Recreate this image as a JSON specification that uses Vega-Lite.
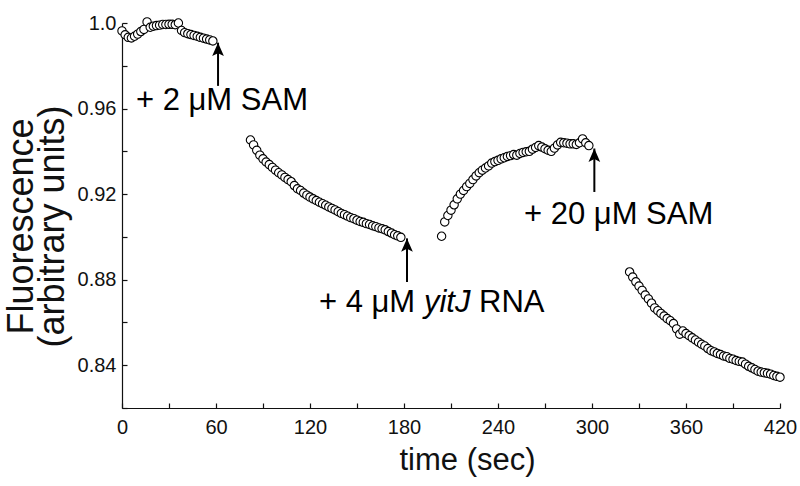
{
  "$schema": "https://vega.github.io/schema/vega-lite/v6.json",
  "width": 658,
  "height": 385,
  "autosize": {"type": "none"},
  "padding": {"left": 122, "top": 23, "right": 20, "bottom": 78},
  "background": "white",
  "config": {
    "view": {"stroke": null},
    "font": "Liberation Sans",
    "axis": {
      "grid": false,
      "domainColor": "#111",
      "domainWidth": 1.2,
      "tickColor": "#111",
      "tickWidth": 1.2,
      "tickSize": -5,
      "labelColor": "#111",
      "titleColor": "#111",
      "titleFontWeight": "normal",
      "labelFlush": false,
      "labelOverlap": false,
      "labelFontSize": 20
    }
  },
  "datasets": {
    "fluor": [
      {"t": 0, "v": 0.9963}, {"t": 2, "v": 0.9945}, {"t": 4, "v": 0.9933}, {"t": 6, "v": 0.9930}, {"t": 8, "v": 0.9938},
      {"t": 10, "v": 0.9948}, {"t": 12, "v": 0.9960}, {"t": 14, "v": 0.9970}, {"t": 16, "v": 1.0005}, {"t": 18, "v": 0.9980},
      {"t": 20, "v": 0.9985}, {"t": 22, "v": 0.9988}, {"t": 24, "v": 0.9990}, {"t": 26, "v": 0.9993}, {"t": 28, "v": 0.9993},
      {"t": 30, "v": 0.9994}, {"t": 32, "v": 0.9994}, {"t": 34, "v": 0.9992}, {"t": 36, "v": 1.0000}, {"t": 38, "v": 0.9965},
      {"t": 40, "v": 0.9955}, {"t": 42, "v": 0.9950}, {"t": 44, "v": 0.9946}, {"t": 46, "v": 0.9942}, {"t": 48, "v": 0.9938},
      {"t": 50, "v": 0.9933}, {"t": 52, "v": 0.9929}, {"t": 54, "v": 0.9925}, {"t": 56, "v": 0.9921}, {"t": 58, "v": 0.9916},
      {"t": 82, "v": 0.9453}, {"t": 84, "v": 0.9430}, {"t": 86, "v": 0.9405}, {"t": 88, "v": 0.9382}, {"t": 90, "v": 0.9365},
      {"t": 92, "v": 0.9350}, {"t": 94, "v": 0.9338}, {"t": 96, "v": 0.9325}, {"t": 98, "v": 0.9312}, {"t": 100, "v": 0.9300},
      {"t": 102, "v": 0.9290}, {"t": 104, "v": 0.9278}, {"t": 106, "v": 0.9268}, {"t": 108, "v": 0.9258}, {"t": 110, "v": 0.9240},
      {"t": 112, "v": 0.9225}, {"t": 114, "v": 0.9217}, {"t": 116, "v": 0.9205}, {"t": 118, "v": 0.9195}, {"t": 120, "v": 0.9186},
      {"t": 122, "v": 0.9178}, {"t": 124, "v": 0.9170}, {"t": 126, "v": 0.9162}, {"t": 128, "v": 0.9155}, {"t": 130, "v": 0.9148},
      {"t": 132, "v": 0.9140}, {"t": 134, "v": 0.9133}, {"t": 136, "v": 0.9126}, {"t": 138, "v": 0.9118}, {"t": 140, "v": 0.9110},
      {"t": 142, "v": 0.9104}, {"t": 144, "v": 0.9097}, {"t": 146, "v": 0.9090}, {"t": 148, "v": 0.9085}, {"t": 150, "v": 0.9078},
      {"t": 152, "v": 0.9072}, {"t": 154, "v": 0.9068}, {"t": 156, "v": 0.9062}, {"t": 158, "v": 0.9058}, {"t": 160, "v": 0.9052},
      {"t": 162, "v": 0.9048}, {"t": 164, "v": 0.9042}, {"t": 166, "v": 0.9038}, {"t": 168, "v": 0.9033}, {"t": 170, "v": 0.9025},
      {"t": 172, "v": 0.9018}, {"t": 174, "v": 0.9010}, {"t": 176, "v": 0.9005}, {"t": 178, "v": 0.8998},
      {"t": 204, "v": 0.9003}, {"t": 206, "v": 0.9070}, {"t": 208, "v": 0.9100}, {"t": 210, "v": 0.9125}, {"t": 212, "v": 0.9150},
      {"t": 214, "v": 0.9178}, {"t": 216, "v": 0.9200}, {"t": 218, "v": 0.9217}, {"t": 220, "v": 0.9235}, {"t": 222, "v": 0.9250},
      {"t": 224, "v": 0.9268}, {"t": 226, "v": 0.9285}, {"t": 228, "v": 0.9300}, {"t": 230, "v": 0.9312}, {"t": 232, "v": 0.9322},
      {"t": 234, "v": 0.9332}, {"t": 236, "v": 0.9345}, {"t": 238, "v": 0.9352}, {"t": 240, "v": 0.9358}, {"t": 242, "v": 0.9365},
      {"t": 244, "v": 0.9370}, {"t": 246, "v": 0.9376}, {"t": 248, "v": 0.9380}, {"t": 250, "v": 0.9385}, {"t": 252, "v": 0.9382},
      {"t": 254, "v": 0.9390}, {"t": 256, "v": 0.9395}, {"t": 258, "v": 0.9398}, {"t": 260, "v": 0.9400}, {"t": 262, "v": 0.9410},
      {"t": 264, "v": 0.9418}, {"t": 266, "v": 0.9427}, {"t": 268, "v": 0.9420}, {"t": 270, "v": 0.9412}, {"t": 272, "v": 0.9405},
      {"t": 274, "v": 0.9400}, {"t": 276, "v": 0.9415}, {"t": 278, "v": 0.9430}, {"t": 280, "v": 0.9442}, {"t": 282, "v": 0.9440},
      {"t": 284, "v": 0.9438}, {"t": 286, "v": 0.9435}, {"t": 288, "v": 0.9435}, {"t": 290, "v": 0.9432}, {"t": 292, "v": 0.9440},
      {"t": 294, "v": 0.9458}, {"t": 296, "v": 0.9440}, {"t": 298, "v": 0.9427},
      {"t": 324, "v": 0.8836}, {"t": 326, "v": 0.8812}, {"t": 328, "v": 0.8790}, {"t": 330, "v": 0.8770}, {"t": 332, "v": 0.8750},
      {"t": 334, "v": 0.8728}, {"t": 336, "v": 0.8710}, {"t": 338, "v": 0.8690}, {"t": 340, "v": 0.8668}, {"t": 342, "v": 0.8655},
      {"t": 344, "v": 0.8642}, {"t": 346, "v": 0.8630}, {"t": 348, "v": 0.8618}, {"t": 350, "v": 0.8608}, {"t": 352, "v": 0.8595},
      {"t": 354, "v": 0.8570}, {"t": 356, "v": 0.8545}, {"t": 358, "v": 0.8560}, {"t": 360, "v": 0.8548}, {"t": 362, "v": 0.8538},
      {"t": 364, "v": 0.8528}, {"t": 366, "v": 0.8518}, {"t": 368, "v": 0.8508}, {"t": 370, "v": 0.8498}, {"t": 372, "v": 0.8490},
      {"t": 374, "v": 0.8478}, {"t": 376, "v": 0.8468}, {"t": 378, "v": 0.8462}, {"t": 380, "v": 0.8455}, {"t": 382, "v": 0.8450},
      {"t": 384, "v": 0.8443}, {"t": 386, "v": 0.8440}, {"t": 388, "v": 0.8432}, {"t": 390, "v": 0.8428}, {"t": 392, "v": 0.8422},
      {"t": 394, "v": 0.8418}, {"t": 396, "v": 0.8415}, {"t": 398, "v": 0.8405}, {"t": 400, "v": 0.8395}, {"t": 402, "v": 0.8388},
      {"t": 404, "v": 0.8380}, {"t": 406, "v": 0.8372}, {"t": 408, "v": 0.8368}, {"t": 410, "v": 0.8365}, {"t": 412, "v": 0.8362},
      {"t": 414, "v": 0.8358}, {"t": 416, "v": 0.8352}, {"t": 418, "v": 0.8348}, {"t": 420, "v": 0.8344}
    ],
    "arrows": [
      {"t": 61.3, "tip": 0.9908, "base": 0.9706},
      {"t": 181.9, "tip": 0.8993, "base": 0.8789},
      {"t": 301.5, "tip": 0.9413, "base": 0.9210}
    ],
    "notes": [
      {"t": 8.9, "v": 0.9592, "label": "+ 2 μM SAM"},
      {"t": 125.7, "v": 0.8649, "label": "+ 4 μM"},
      {"t": 227.9, "v": 0.8649, "label": "RNA"},
      {"t": 256.6, "v": 0.9059, "label": "+ 20 μM SAM"}
    ],
    "italicNotes": [
      {"t": 192.7, "v": 0.8649, "label": "yitJ"}
    ]
  },
  "layer": [
    {
      "data": {"name": "fluor"},
      "mark": {"type": "point", "shape": "circle", "filled": true, "fill": "white", "stroke": "black", "strokeWidth": 1.1, "size": 70, "opacity": 1},
      "encoding": {
        "x": {
          "field": "t", "type": "quantitative",
          "scale": {"domain": [0, 420], "nice": false, "zero": false},
          "axis": {
            "values": [0, 30, 60, 90, 120, 150, 180, 210, 240, 270, 300, 330, 360, 390, 420],
            "labelExpr": "datum.value % 60 == 0 ? datum.label : ''",
            "title": "time (sec)",
            "labelPadding": 14,
            "titleFontSize": 31,
            "titleX": 345,
            "titleY": 61,
            "titleBaseline": "alphabetic",
            "titleAlign": "center"
          }
        },
        "y": {
          "field": "v", "type": "quantitative",
          "scale": {"domain": [0.82, 1.0], "nice": false, "zero": false},
          "axis": {
            "values": [0.82, 0.84, 0.86, 0.88, 0.9, 0.92, 0.94, 0.96, 0.98, 1.0],
            "labelExpr": "datum.value >= 0.999 ? '1.0' : (round(datum.value * 100) % 4 == 0 ? format(datum.value, '.2f') : '')",
            "title": ["Fluorescence", "(arbitrary units)"],
            "labelPadding": 11,
            "titleFontSize": 36,
            "titleLineHeight": 31,
            "titleAngle": 270,
            "titleX": -90,
            "titleY": 203,
            "titleAlign": "center",
            "titleBaseline": "alphabetic"
          }
        }
      }
    },
    {
      "data": {"name": "arrows"},
      "mark": {"type": "rule", "color": "black", "strokeWidth": 2},
      "encoding": {
        "x": {"field": "t", "type": "quantitative"},
        "y": {"field": "base", "type": "quantitative"},
        "y2": {"field": "tip"}
      }
    },
    {
      "data": {"name": "arrows"},
      "mark": {"type": "point", "shape": "M0,0 L0.7,1.6 L0,1.25 L-0.7,1.6 Z", "filled": true, "color": "black", "size": 280, "opacity": 1, "strokeWidth": 0},
      "encoding": {
        "x": {"field": "t", "type": "quantitative"},
        "y": {"field": "tip", "type": "quantitative"}
      }
    },
    {
      "data": {"name": "notes"},
      "mark": {"type": "text", "align": "left", "baseline": "alphabetic", "fontSize": 31, "color": "black"},
      "encoding": {
        "x": {"field": "t", "type": "quantitative"},
        "y": {"field": "v", "type": "quantitative"},
        "text": {"field": "label"}
      }
    },
    {
      "data": {"name": "italicNotes"},
      "mark": {"type": "text", "align": "left", "baseline": "alphabetic", "fontSize": 31, "fontStyle": "italic", "color": "black"},
      "encoding": {
        "x": {"field": "t", "type": "quantitative"},
        "y": {"field": "v", "type": "quantitative"},
        "text": {"field": "label"}
      }
    }
  ]
}
